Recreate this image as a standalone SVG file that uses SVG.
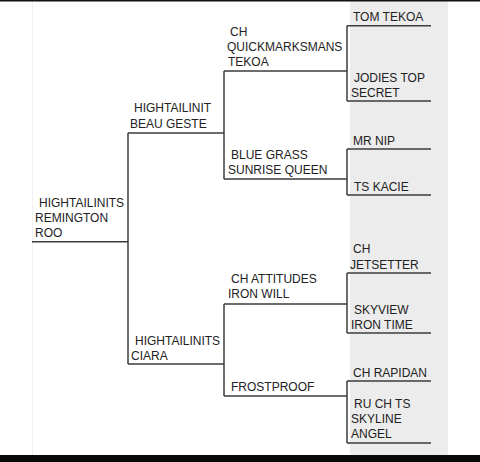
<svg xmlns="http://www.w3.org/2000/svg" width="480" height="462" viewBox="0 0 480 462">
<style>
text{font-family:"Liberation Sans",Arial,sans-serif;font-size:12px;fill:#222}
.c{fill:none;stroke:#3c3c3c;stroke-width:1.5}
</style>
<rect x="0" y="0" width="480" height="462" fill="#fff"/>
<rect x="350" y="0" width="98" height="455" fill="#ececec"/>
<line x1="32.5" y1="2" x2="32.5" y2="455" stroke="#f1f1f1" stroke-width="1"/>
<rect x="0" y="0" width="480" height="1.5" fill="#111"/>
<rect x="0" y="455" width="480" height="7" fill="#0a0a0a"/>
<g id="connectors">
<path class="c" d="M32 241.7H128M128 133V364"/>
<path class="c" d="M128 133H224M224 71V179"/>
<path class="c" d="M128 364H224M224 304V396"/>
<path class="c" d="M224 71H347M347 25.7V101"/>
<path class="c" d="M224 179H347M347 149V195"/>
<path class="c" d="M224 304H347M347 273V333"/>
<path class="c" d="M224 396H347M347 381V443"/>
<path class="c" d="M347 25.7H431M347 101H431M347 149H431M347 195H431M347 273H431M347 333H431M347 381H431M347 443H431"/>
</g>
<g id="root"><text x="39" y="207">HIGHTAILINITS</text><text x="35" y="222">REMINGTON</text><text x="35" y="237">ROO</text></g>
<g id="sire"><text x="134" y="112">HIGHTAILINIT</text><text x="130" y="128">BEAU GESTE</text></g>
<g id="dam"><text x="135" y="345">HIGHTAILINITS</text><text x="131" y="360">CIARA</text></g>
<g id="ss"><text x="230" y="36">CH</text><text x="227" y="51">QUICKMARKSMANS</text><text x="228" y="66">TEKOA</text></g>
<g id="sd"><text x="231" y="159">BLUE GRASS</text><text x="228" y="174">SUNRISE QUEEN</text></g>
<g id="ds"><text x="231" y="283">CH ATTITUDES</text><text x="228" y="298">IRON WILL</text></g>
<g id="dd"><text x="231" y="391">FROSTPROOF</text></g>
<g id="sss"><text x="353" y="21">TOM TEKOA</text></g>
<g id="ssd"><text x="354" y="82">JODIES TOP</text><text x="351" y="97">SECRET</text></g>
<g id="sds"><text x="353" y="145">MR NIP</text></g>
<g id="sdd"><text x="354" y="191">TS KACIE</text></g>
<g id="dss"><text x="353" y="253">CH</text><text x="350" y="269">JETSETTER</text></g>
<g id="dsd"><text x="354" y="314">SKYVIEW</text><text x="351" y="329">IRON TIME</text></g>
<g id="dds"><text x="353" y="377">CH RAPIDAN</text></g>
<g id="ddd"><text x="354" y="408">RU CH TS</text><text x="351" y="423">SKYLINE</text><text x="351" y="438">ANGEL</text></g>
</svg>
